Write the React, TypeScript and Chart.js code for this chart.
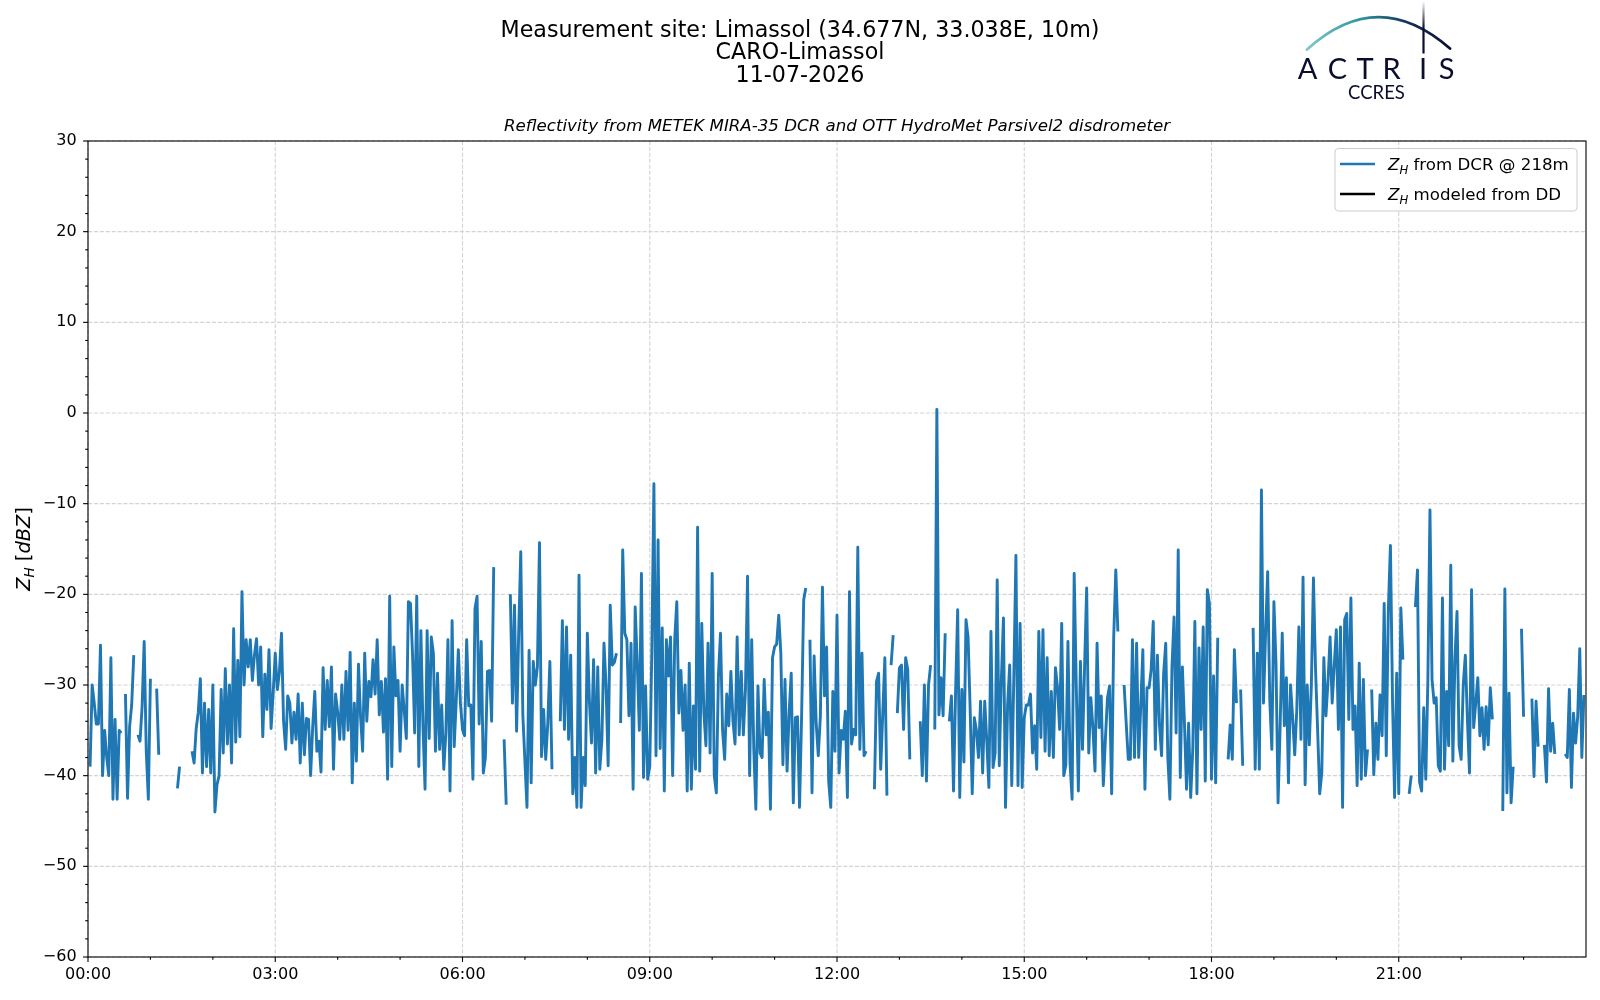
import React, { useEffect, useRef } from 'react';
import { Chart, registerables } from 'chart.js';

Chart.register(...registerables);

// Z_H from the DCR at 218 m: one value every 2 minutes,
// one row per hour (dBZ, null = no radar data).
const STEP_MIN = 2;
const h00 = [null, -39, -30, -32, -34.3, -34.3, -25.6, -40, -35, -38, -40, -27, -42.6, -33.8, -42.6, -35, -35.3, null, -31, -42.5, -34.6, -32.2, -26.7, null, -35.5, -36.2, -32.4, -25.2, -37.3, -42.6];
const h01 = [-29.3, null, null, -30.4, -37.7, null, null, null, null, null, null, null, null, -41.4, -39, null, null, null, null, null, -37.3, -38.6, -34.8, -33, -29.3, -39.7, -32, -39, -32.7, -39.7];
const h02 = [-30, -44, -41, -40, -30.5, -37.5, -28.2, -36.5, -30, -38.6, -23.8, -36.3, -27.3, -35.7, -19.7, -30, -25, -28, -25, -29.5, -26.7, -24.9, -30, -25.8, -35.7, -28.8, -32.7, -26.1, -34.8, -30.9];
const h03 = [-26.5, -30.5, -28.6, -24.3, -34, -37.1, -31.2, -32, -36.4, -33, -36, -31, -38.6, -32, -37.7, -33.7, -33.8, -40, -34.6, -30.7, -37.3, -36.2, -39.6, -28.1, -34.9, -29.5, -34.6, -28, -39.3, -31];
const h04 = [-33, -36, -30, -36, -28.5, -35, -26.4, -40.8, -32, -38.4, -27.7, -33.5, -37.3, -26.5, -34, -29.6, -31.3, -27.2, -31, -25, -33.3, -29.6, -35.2, -29.3, -40.4, -20.2, -39, -25.8, -31.2, -29.5];
const h05 = [-37.3, -30, -32.8, -35.9, -20.8, -21, -26.7, -35.3, -20.2, -39, -24, -34.6, -41.5, -24, -35.9, -24.7, -26.5, -37.3, -28.7, -37.1, -32.2, -39.3, -35.3, -25, -41.7, -22.9, -36.8, -31.7, -26.1, -32];
const h06 = [-34.9, -35.6, -25, -32.3, -32.2, -40.4, -21.6, -20.2, -34.3, -25.2, -39.7, -38, -28.5, -28.4, -34, -17, null, null, null, null, -36, -43.2, null, -20, -32, -21.2, -35.1, -24.3, -15.3, -33.3];
const h07 = [-38.4, -43.5, -26.2, -40.8, -27.4, -30, -28, -14.3, -37.9, -32.7, -38.2, -34.2, -27.4, -39.3, null, null, null, -34, -22.9, -34.9, -23.6, -36, -26.7, -42, -38, -43.5, -17.9, -43.5, -38, -41.1];
const h08 = [-24.3, -31.8, -36.4, -27.2, -39.7, -28, -39.3, -36, -25.4, -30.1, -38.9, -21.2, -27.8, -27.5, -26.5, null, -34.2, -15.1, -24.3, -25, -33.4, -25.4, -41.5, -21.4, -27.6, -35, -17.7, -40.2, -30.1, -40.4];
const h09 = [-39, -26.3, -7.8, -37.8, -14, -37, -23.7, -41.7, -25, -29, -24.7, -40, -25, -20.8, -33.1, -28.4, -35, -30, -41.7, -27.6, -41.5, -32.3, -39.3, -12.6, -39.5, -23.2, -33, -36.7, -25.4, -37.5];
const h10 = [-17.7, -40, -41.9, -29, -24.3, -35, -38.2, -31, -34.5, -28.5, -34, -36.5, -24.7, -35.5, -28.5, -35.5, -30.5, -18, -40, -25, -37, -43.7, -30.1, -37.5, -38, -29.4, -35.5, -33, -43.7, -27];
const h11 = [-25.8, -25.5, -22.3, -26.5, -38.8, -29.4, -39.5, -33, -28.7, -43, -33.6, -33.5, -43.5, -33.3, -20.6, -19.3, null, -25, -41.9, -26.8, -34.2, -37.8, -33.5, -19.2, -31.2, -25.8, -40.6, -43.5, -30.7, -37.3];
const h12 = [-22.3, -39.7, -35, -36, -32.9, -42.4, -19.7, -36.5, -34.9, -35.5, -14.8, -37.1, -26.5, -37.8, -37.3, null, null, null, -41.5, -29.6, -28.7, -39.3, -33.1, -27, -42.2, null, -27.8, -24.5, null, -33.1];
const h13 = [-28.1, -27.8, -34.9, -27, -28.3, -38.2, null, null, null, null, -34, -40, -30, -40.6, -30, -27.8, null, -34.9, 0.4, -33.3, -29.2, -33.4, -24.3, null, -34, -31.2, -41.7, -30.7, -21.7, -42.4];
const h14 = [-30.5, -38.5, -22.8, -24.7, -32.7, -42, -33.6, -35, -38, -31.8, -39.7, -31.8, -36.2, -41.3, -24.1, -39.1, -37.5, -18.4, -38.9, -29.4, -22.6, -43.5, -32.2, -27.8, -41.1, -29, -15.7, -41.1, -23.2, -41.3];
const h15 = [-33.6, -32.2, -32.2, -31, -37.5, -34.5, -39.3, -24.1, -35.8, -23.9, -37.3, -27, -37.8, -30.7, -38, -28.1, -30.3, -34.9, -23.2, -40, -38.8, -25.2, -38.6, -42.6, -17.7, -30, -41.7, -27.4, -37.1, -28];
const h16 = [-19.3, -37.5, -31.4, -34.7, -39.5, -25.4, -34.7, -31.2, -41.1, -36, -31.4, -30.1, -42, -24.7, -17.3, -24.1, null, null, -30, -34.2, -38.2, -38.2, -25, -38, -25.4, -38, -32.3, -26.1, -41.5, -30.3];
const h17 = [-30.3, -28.3, -23, -37.1, -26.7, -34.4, -37.8, -28.7, -25.4, -38, -42.6, -28, -22.5, -35.3, -15.1, -40.2, -28, -34.2, -41.5, -34.2, -42.4, -37.1, -23, -42, -25.9, -34.9, -23.6, -40.6, -19.5, -21];
const h18 = [-40.4, -29, -40.8, -24.8, null, null, null, null, -38.2, -34.4, -38.2, -26.1, -32, null, -30.5, -38.9, null, null, null, null, -23.7, -39.3, -26.5, -39.3, -8.5, -32, -24.3, -17.5, -31.6, -37.1];
const h19 = [-20.8, -27.6, -43, -34.5, -24.3, -34.5, -29.2, -40.8, -30, -33.6, -37.7, -32.7, -23.6, -36, -18.1, -41, -30, -36.6, -30, -18.2, -28.3, -34.9, -42, -39.7, -27, -33.4, -29.6, -24.7, -32, -27.8];
const h20 = [-23.9, -34.9, -23.6, -43.5, -22.8, -22.1, -33.8, -20.4, -34.9, -32.3, -41.1, -27.6, -40.4, -29.4, -40, -37.1, null, -30.5, -39.9, -34.2, -38.2, -31.1, -35.6, -21, -37.8, -21.7, -14.6, -31.6, -42.4, -28.7];
const h21 = [-42, -21.5, -27.2, null, null, -42, -40, null, -21.4, -17.3, -40.7, -41.7, -32.5, -40.4, -29.4, -10.7, -29.4, -32, -31.4, -38.9, -39.5, -20.4, -39.3, -30.7, -36.7, -16.8, -38.4, -27.2, -21.9, -36.7];
const h22 = [-38.2, -30, -26.7, -33.8, -39.7, -19.5, -34.7, -32, -29.2, -35.6, -32.5, -37.1, -32.4, -36.6, -30.3, -33.8, null, null, null, null, -43.9, -19.4, -41.9, -30.9, -43, -39, null, null, null, -23.8];
const h23 = [-33.5, null, null, null, -31.5, -40.1, -31.8, -36.8, null, null, -36.6, -40.7, -30.4, -37.3, -34.2, -37.6, null, null, null, null, -37.6, -38, -30.5, -41.3, -33.1, -36.4, -33.5, -26, -38, -31.1];

const zhDcr: (number | null)[] = [h00, h01, h02, h03, h04, h05, h06, h07, h08, h09, h10, h11, h12, h13, h14, h15, h16, h17, h18, h19, h20, h21, h22, h23].flat();
// the disdrometer gave nothing this day: the series is empty
const zhDd: (number | null)[] = [];

const xLabelTicks = [0, 180, 360, 540, 720, 900, 1080, 1260];
const xMinorTicks = [60, 120, 240, 300, 420, 480, 600, 660, 780, 840, 960, 1020, 1140, 1200, 1320, 1380];
const yLabelTicks = [-60, -50, -40, -30, -20, -10, 0, 10, 20, 30];

const titleLines = ['Measurement site: Limassol (34.677N, 33.038E, 10m)', 'CARO-Limassol', '11-07-2026'];
const subtitle = 'Reflectivity from METEK MIRA-35 DCR and OTT HydroMet Parsivel2 disdrometer';
const legendLabels = ['$Z_H$ from DCR @ 218m', '$Z_H$ modeled from DD'];
const yTitle = '$Z_H$ [$dBZ$]';

const FONT = '"DejaVu Sans", sans-serif';
const BLUE = '#1f77b4';
const NAVY = '#0b0d2e';

const hhmm = (m: number) =>
  String(Math.floor(m / 60)).padStart(2, '0') + ':' + String(m % 60).padStart(2, '0');

type Seg = { t: string; it?: boolean; sub?: boolean };

// tiny mathtext: $...$ is italic, _X is a subscript
function parseMath(s: string): Seg[] {
  const out: Seg[] = [];
  s.split('$').forEach((part, i) => {
    if (i % 2 === 0) {
      if (part) out.push({ t: part });
      return;
    }
    for (let k = 0; k < part.length; k++) {
      if (part[k] === '_') {
        out.push({ t: part[k + 1], it: true, sub: true });
        k++;
      } else out.push({ t: part[k], it: true });
    }
  });
  return out;
}

function drawMath(ctx: CanvasRenderingContext2D, s: string, x: number, y: number, size: number, center: boolean) {
  const segs = parseMath(s);
  const fontFor = (g: Seg) => `${g.it ? 'italic ' : ''}${g.sub ? size * 0.7 : size}px ${FONT}`;
  const widths = segs.map(g => {
    ctx.font = fontFor(g);
    return ctx.measureText(g.t).width;
  });
  const total = widths.reduce((a, b) => a + b, 0);
  let cx = center ? x - total / 2 : x;
  ctx.textAlign = 'left';
  ctx.textBaseline = 'alphabetic';
  segs.forEach((g, i) => {
    ctx.font = fontFor(g);
    ctx.fillText(g.t, cx, g.sub ? y + size * 0.22 : y);
    cx += widths[i];
  });
}

function drawLogo(ctx: CanvasRenderingContext2D) {
  ctx.save();
  const arc = ctx.createLinearGradient(1306, 0, 1450, 0);
  arc.addColorStop(0, '#7fcac4');
  arc.addColorStop(0.4, '#2f8f9e');
  arc.addColorStop(0.7, '#16325a');
  arc.addColorStop(1, NAVY);
  ctx.strokeStyle = arc;
  ctx.lineWidth = 2.8;
  ctx.lineCap = 'round';
  ctx.beginPath();
  ctx.moveTo(1307, 49.5);
  ctx.quadraticCurveTo(1377.6, -14.8, 1450, 48.5);
  ctx.stroke();

  const mast = ctx.createLinearGradient(0, 1, 0, 28);
  mast.addColorStop(0, 'rgba(11,13,46,0)');
  mast.addColorStop(1, NAVY);
  ctx.strokeStyle = mast;
  ctx.lineWidth = 2.2;
  ctx.lineCap = 'butt';
  ctx.beginPath();
  ctx.moveTo(1423.5, 1);
  ctx.lineTo(1423.5, 53.5);
  ctx.stroke();

  ctx.fillStyle = NAVY;
  ctx.textAlign = 'center';
  ctx.textBaseline = 'alphabetic';
  ctx.font = '29px Lato';
  const centers = [1307.5, 1337.5, 1365, 1391.5, 1423, 1446.5];
  'ACTRIS'.split('').forEach((c, i) => ctx.fillText(c, centers[i], 78.5));
  ctx.font = '18.5px Lato';
  ctx.fillText('CCRES', 1376.5, 99.3);
  ctx.restore();
}

const decorations = {
  id: 'decorations',
  beforeDatasetsDraw(chart: any) {
    const { ctx, chartArea: a, scales } = chart;
    ctx.save();
    ctx.strokeStyle = '#d3d3d3';
    ctx.lineWidth = 1.1;
    ctx.setLineDash([4.1, 1.8]);
    xLabelTicks.forEach(v => {
      const px = scales.x.getPixelForValue(v);
      ctx.beginPath();
      ctx.moveTo(px, a.top);
      ctx.lineTo(px, a.bottom);
      ctx.stroke();
    });
    yLabelTicks.forEach(v => {
      const py = scales.y.getPixelForValue(v);
      ctx.beginPath();
      ctx.moveTo(a.left, py);
      ctx.lineTo(a.right, py);
      ctx.stroke();
    });
    ctx.restore();
  },
  afterDraw(chart: any) {
    const { ctx, chartArea: a, scales } = chart;
    ctx.save();

    // axes frame and outward ticks
    ctx.strokeStyle = '#000';
    ctx.lineWidth = 1.1;
    ctx.strokeRect(a.left, a.top, a.right - a.left, a.bottom - a.top);
    const seg = (x1: number, y1: number, x2: number, y2: number) => {
      ctx.beginPath();
      ctx.moveTo(x1, y1);
      ctx.lineTo(x2, y2);
      ctx.stroke();
    };
    xLabelTicks.forEach(v => {
      const px = scales.x.getPixelForValue(v);
      seg(px, a.bottom, px, a.bottom + 4.9);
    });
    xMinorTicks.forEach(v => {
      const px = scales.x.getPixelForValue(v);
      seg(px, a.bottom, px, a.bottom + 2.8);
    });
    for (let v = -60; v <= 30; v += 2) {
      const py = scales.y.getPixelForValue(v);
      seg(a.left - (v % 10 === 0 ? 4.9 : 2.8), py, a.left, py);
    }

    // titles
    ctx.fillStyle = '#000';
    ctx.textAlign = 'center';
    ctx.textBaseline = 'alphabetic';
    ctx.font = `22.2px ${FONT}`;
    [36.7, 59.2, 81.6].forEach((y, i) => ctx.fillText(titleLines[i], 800, y));
    ctx.font = `italic 16.67px ${FONT}`;
    ctx.fillText(subtitle, (a.left + a.right) / 2, 130.6);

    // y axis title
    ctx.save();
    ctx.translate(30, (a.top + a.bottom) / 2);
    ctx.rotate(-Math.PI / 2);
    drawMath(ctx, yTitle, 0, 0, 19.4, true);
    ctx.restore();

    // legend
    const lx = 1335, ly = 148.5, lw = 242, lh = 62.5, r = 3.5;
    ctx.beginPath();
    ctx.moveTo(lx + r, ly);
    ctx.arcTo(lx + lw, ly, lx + lw, ly + lh, r);
    ctx.arcTo(lx + lw, ly + lh, lx, ly + lh, r);
    ctx.arcTo(lx, ly + lh, lx, ly, r);
    ctx.arcTo(lx, ly, lx + lw, ly, r);
    ctx.closePath();
    ctx.fillStyle = 'rgba(255,255,255,0.8)';
    ctx.fill();
    ctx.strokeStyle = '#cccccc';
    ctx.lineWidth = 1;
    ctx.stroke();
    chart.data.datasets.forEach((ds: any, i: number) => {
      const cy = 164 + i * 30;
      ctx.strokeStyle = ds.borderColor;
      ctx.lineWidth = 2.6;
      seg(1340, cy, 1375, cy);
      ctx.fillStyle = '#000';
      drawMath(ctx, ds.label, 1388, cy + 6, 16.67, false);
    });

    drawLogo(ctx);
    ctx.restore();
  },
};

export default function App() {
  const canvasRef = useRef<HTMLCanvasElement>(null);

  useEffect(() => {
    if (!canvasRef.current) return;
    const tickFont = { family: FONT, size: 16 };
    const chart = new Chart(canvasRef.current, {
      type: 'line',
      data: {
        datasets: [
          {
            label: legendLabels[0],
            data: zhDcr.map((v, i) => ({ x: i * STEP_MIN, y: v })) as any,
            borderColor: BLUE,
            borderWidth: 2.9,
            borderJoinStyle: 'round',
            pointRadius: 0,
            tension: 0,
            spanGaps: false,
          },
          {
            label: legendLabels[1],
            data: zhDd.map((v, i) => ({ x: i * STEP_MIN, y: v })) as any,
            borderColor: '#000000',
            borderWidth: 2.9,
            pointRadius: 0,
          },
        ],
      },
      options: {
        animation: false,
        responsive: false,
        events: [],
        layout: { padding: { left: 0, top: 141, right: 14, bottom: 0 } },
        plugins: {
          legend: { display: false },
          title: { display: false },
          tooltip: { enabled: false },
        },
        scales: {
          x: {
            type: 'linear',
            min: 0,
            max: 1440,
            afterBuildTicks: (s: any) => {
              s.ticks = xLabelTicks.map(v => ({ value: v }));
            },
            afterFit: (s: any) => {
              s.height = 43;
            },
            grid: { display: false, drawTicks: false },
            border: { display: false },
            ticks: {
              padding: 8.3,
              color: '#000',
              font: tickFont,
              maxRotation: 0,
              autoSkip: false,
              callback: (v: any) => hhmm(Number(v)),
            },
          },
          y: {
            type: 'linear',
            min: -60,
            max: 30,
            afterBuildTicks: (s: any) => {
              s.ticks = yLabelTicks.map(v => ({ value: v }));
            },
            afterFit: (s: any) => {
              s.width = 88;
            },
            grid: { display: false, drawTicks: false },
            border: { display: false },
            ticks: {
              padding: 11.4,
              color: '#000',
              font: tickFont,
              autoSkip: false,
              callback: (v: any) => String(v).replace('-', '\u2212'),
            },
          },
        },
      },
      plugins: [decorations],
    });
    return () => chart.destroy();
  }, []);

  return (
    <div style={{ position: 'fixed', left: 0, top: 0, width: 1600, height: 1000, background: '#fff' }}>
      <canvas ref={canvasRef} width={1600} height={1000} style={{ display: 'block', width: 1600, height: 1000 }} />
    </div>
  );
}
